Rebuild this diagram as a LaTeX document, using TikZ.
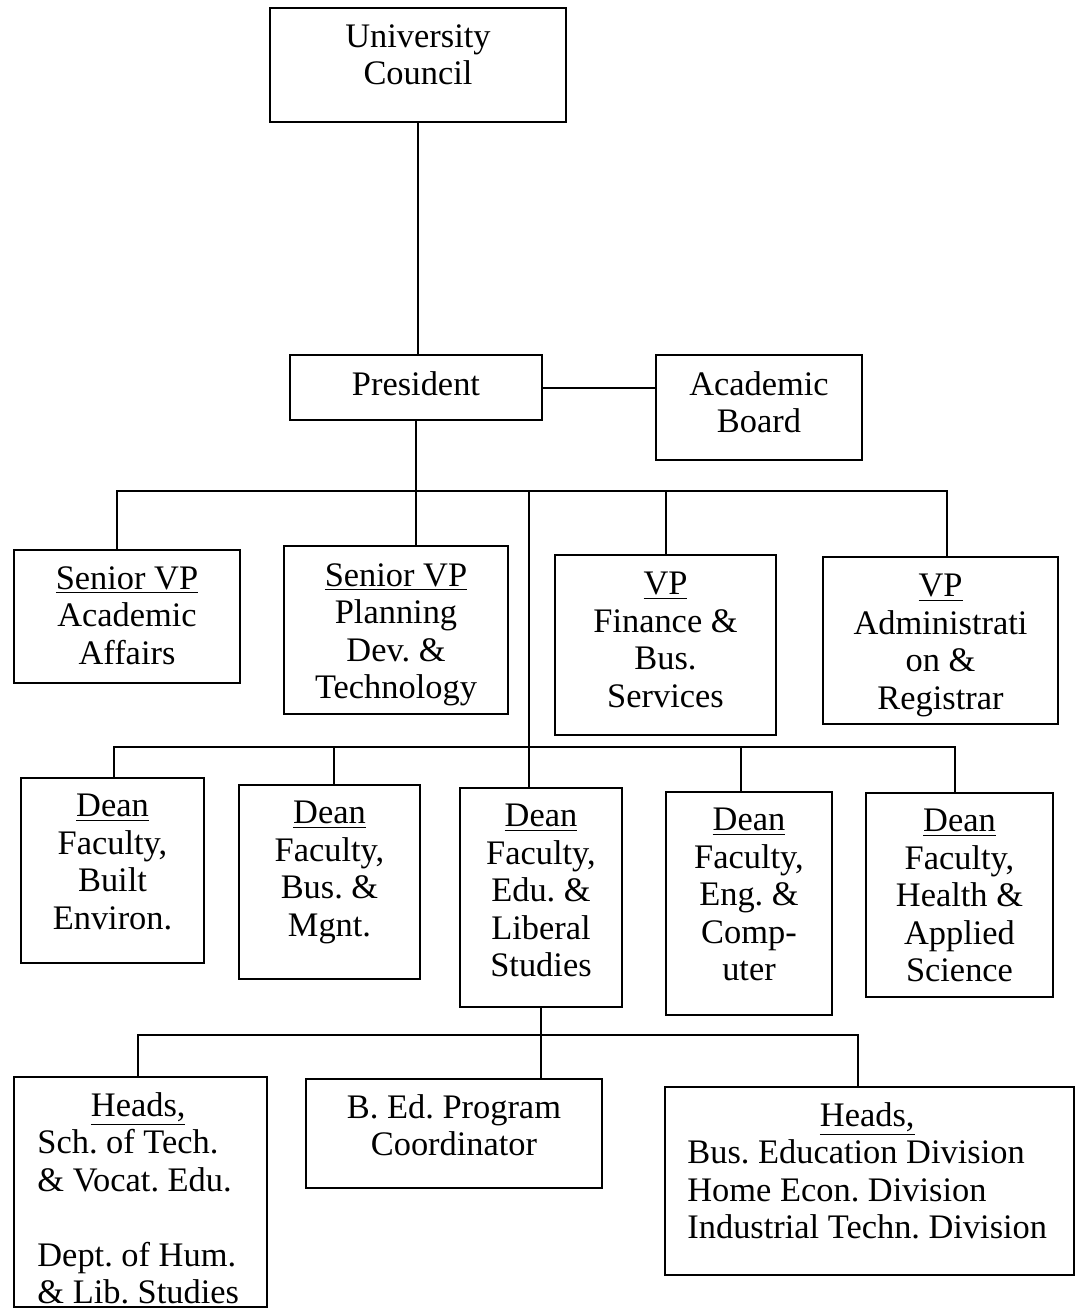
\documentclass[tikz,border=0pt]{standalone}
\usepackage{fontspec}
\setmainfont{Liberation Serif}
\frenchspacing
\usetikzlibrary{positioning}
\tikzset{
	box/.style 2 args={draw, line width=1pt, inner sep=0pt, minimum width=#1*0.5pt, minimum height=#2*0.5pt},
	txt/.style={align=center, inner sep=0pt, font=\fontsize{17.2}{18.75}\selectfont},
	lst/.style={inner sep=0pt, font=\fontsize{17.2}{18.75}\selectfont},
	wire/.style={line width=1pt}
}
\begin{document}
\begin{tikzpicture}[x=0.5pt,y=-0.5pt]
				\useasboundingbox (0,0) rectangle (1080,1310);
				\node[box={296}{114}] (uc) at (418,65) {};
				\node[box={252}{65}] (pres) at (416,387.5) {};
				\node[box={206}{105}] (board) at (759,407.5) {};
				\node[box={226}{133}] (aa) at (127,616.5) {};
				\node[box={224}{168}] (pdt) at (396,630) {};
				\node[box={221}{180}] (fin) at (665.5,645) {};
				\node[box={235}{167}] (adm) at (940.5,640.5) {};
				\node[box={183}{185}] (d1) at (112.5,870.5) {};
				\node[box={181}{194}] (d2) at (329.5,882) {};
				\node[box={162}{219}] (d3) at (541,897.5) {};
				\node[box={166}{223}] (d4) at (749,903.5) {};
				\node[box={187}{204}] (d5) at (959.5,895) {};
				\node[box={253}{230}] (h1) at (140.5,1192) {};
				\node[box={296}{109}] (bed) at (454,1133.5) {};
				\node[box={409}{188}] (h2) at (869.5,1181) {};
				\node[txt, below=8.5pt of uc.north] (uct) {University\\Council};
				\node[txt, below=8.5pt of pres.north] (prest) {President};
				\node[txt, below=8.5pt of board.north] (boardt) {Academic\\Board};
				\node[txt, below=8.5pt of aa.north] (aat) {\underline{Senior VP}\\Academic\\Affairs};
				\node[txt, below=9pt of pdt.north] (pdtt) {\underline{Senior VP}\\Planning\\Dev. \&\\Technology};
				\node[txt, below=9pt of fin.north] (fint) {\underline{VP}\\Finance \&\\Bus.\\Services};
				\node[txt, below=9pt of adm.north] (admt) {\underline{VP}\\Administrati\\on \&\\Registrar};
				\node[txt, below=8.5pt of d1.north] (d1t) {\underline{Dean}\\Faculty,\\Built\\Environ.};
				\node[txt, below=8.5pt of d2.north] (d2t) {\underline{Dean}\\Faculty,\\Bus. \&\\Mgnt.};
				\node[txt, below=8.5pt of d3.north] (d3t) {\underline{Dean}\\Faculty,\\Edu. \&\\Liberal\\Studies};
				\node[txt, below=8.5pt of d4.north] (d4t) {\underline{Dean}\\Faculty,\\Eng. \&\\Comp-\\uter};
				\node[txt, below=8.5pt of d5.north] (d5t) {\underline{Dean}\\Faculty,\\Health \&\\Applied\\Science};
				\node[txt, below=8pt of bed.north] (bedt) {B. Ed. Program\\Coordinator};
				\node[lst, anchor=north west, below right=6.9pt and 12pt of h1.north west] (h1t) {\begin{tabular}{@{}l@{}}\multicolumn{1}{@{}c@{}}{\underline{Heads,}}\\Sch. of Tech.\\\& Vocat. Edu.\\ \\Dept. of Hum.\\\& Lib. Studies\end{tabular}};
				\node[lst, anchor=north west, below right=6.9pt and 11.5pt of h2.north west] (h2t) {\begin{tabular}{@{}l@{}}\multicolumn{1}{@{}c@{}}{\underline{Heads,}}\\Bus. Education Division\\Home Econ. Division\\Industrial Techn. Division\end{tabular}};
				\coordinate (vpl) at (117,491);
				\coordinate (vpr) at (947,491);
				\coordinate (trunk) at (529,491);
				\coordinate (dnl) at (114,747);
				\coordinate (dnr) at (955,747);
				\coordinate (dn2) at (334,747);
				\coordinate (dn4) at (741,747);
				\coordinate (hdl) at (138,1035);
				\coordinate (hdr) at (858,1035);
				\draw[wire] (uc.south) -- (uc.south |- pres.north);
				\draw[wire] (pres.east) -- (pres.east -| board.west);
				\draw[wire] (pres.south) -- (pres.south |- pdt.north);
				\draw[wire] (aa.north -| vpl) -- (vpl) -- (vpr) -- (vpr |- adm.north);
				\draw[wire] (fin.north) -- (fin.north |- vpl);
				\draw[wire] (trunk) -- (trunk |- d3.north);
				\draw[wire] (d1.north -| dnl) -- (dnl) -- (dnr) -- (dnr |- d5.north);
				\draw[wire] (dn2) -- (dn2 |- d2.north);
				\draw[wire] (dn4) -- (dn4 |- d4.north);
				\draw[wire] (d3.south) -- (d3.south |- bed.north);
				\draw[wire] (h1.north -| hdl) -- (hdl) -- (hdr) -- (hdr |- h2.north);
			\end{tikzpicture}
\end{document}
